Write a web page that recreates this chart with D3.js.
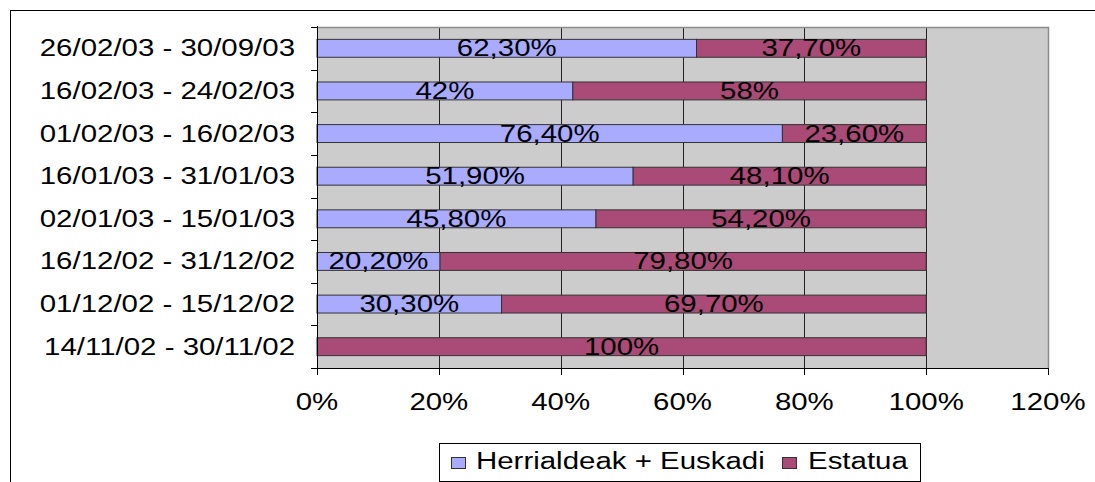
<!DOCTYPE html>
<html>
<head>
<meta charset="utf-8">
<script src="https://cdn.jsdelivr.net/npm/d3@7"></script>
<style>
    body { margin: 0; background: #fff; }
    svg { display: block; }
    text { font-family: "Liberation Sans", Arial, sans-serif; fill: #000; }
</style>
</head>
<body>
<div id="chart"></div>
<script>
// Periods, top to bottom as drawn
const periods = [
    "26/02/03 - 30/09/03",
    "16/02/03 - 24/02/03",
    "01/02/03 - 16/02/03",
    "16/01/03 - 31/01/03",
    "02/01/03 - 15/01/03",
    "16/12/02 - 31/12/02",
    "01/12/02 - 15/12/02",
    "14/11/02 - 30/11/02"
];
const herrialdeak = [62.3, 42, 76.4, 51.9, 45.8, 20.2, 30.3, 0];
const estatua = [37.7, 58, 23.6, 48.1, 54.2, 79.8, 69.7, 100];
const seriesNames = ["Herrialdeak + Euskadi", "Estatua"];
const seriesColors = ["#a9abff", "#a94b76"];
const xTicks = [0, 20, 40, 60, 80, 100, 120];

const width = 1095, height = 482;
const fontSize = 23;
const stretch = 1.28; // the original picture is widened horizontally

const svg = d3.select("#chart").append("svg")
    .attr("width", width)
    .attr("height", height);

// text helper: widened glyphs like the reference
function label(g, x, y, str, anchor) {
    return g.append("text")
        .attr("transform", `translate(${x},${y}) scale(${stretch},1)`)
        .attr("text-anchor", anchor || "middle")
        .style("font-size", fontSize + "px")
        .text(str);
}

function fmt(v) {
    return String(v.toFixed(v % 1 === 0 ? 0 : 2)).replace(".", ",") + "%";
}

// outer chart frame (left and top edges visible)
svg.append("line").attr("x1", 10.5).attr("x2", 10.5).attr("y1", 10).attr("y2", height).attr("stroke", "#000");
svg.append("line").attr("x1", 10).attr("x2", width).attr("y1", 10.5).attr("y2", 10.5).attr("stroke", "#000");

const plot = { left: 317, right: 1048, top: 27, bottom: 368 };

const x = d3.scaleLinear().domain([0, 120]).range([plot.left, plot.right]);
const y = d3.scaleBand().domain(periods).range([plot.top, plot.bottom])
    .paddingInner(0.58).paddingOuter(0.29);

// plot background
svg.append("rect")
    .attr("x", plot.left).attr("y", plot.top)
    .attr("width", plot.right - plot.left).attr("height", plot.bottom - plot.top)
    .attr("fill", "#cccccc");

// gridlines
svg.append("g").selectAll("line")
    .data(xTicks.filter(t => t > 0 && t < 120))
    .enter().append("line")
    .attr("x1", d => Math.round(x(d)) + 0.5).attr("x2", d => Math.round(x(d)) + 0.5)
    .attr("y1", plot.top).attr("y2", plot.bottom)
    .attr("stroke", "#222");

// plot border top/right in gray
svg.append("path")
    .attr("d", `M${plot.left},${plot.top + 0.5}H${plot.right + 0.5}V${plot.bottom}`)
    .attr("fill", "none").attr("stroke", "#8c8c8c").attr("stroke-width", 1.5);

// stacked bars
const rows = periods.map((p, i) => ({ period: p, values: [herrialdeak[i], estatua[i]] }));
const barG = svg.append("g");
rows.forEach(r => {
    let acc = 0;
    r.values.forEach((v, j) => {
        if (v > 0) {
            barG.append("rect")
                .attr("x", x(acc)).attr("y", y(r.period))
                .attr("width", x(acc + v) - x(acc)).attr("height", y.bandwidth())
                .attr("fill", seriesColors[j])
                .attr("stroke", "#333").attr("stroke-width", 1);
            label(barG, (x(acc) + x(acc + v)) / 2, y(r.period) + y.bandwidth() / 2 + 8, fmt(v));
        }
        acc += v;
    });
});

// y axis with ticks at band boundaries
const yAxisG = svg.append("g");
yAxisG.append("line")
    .attr("x1", plot.left + 0.5).attr("x2", plot.left + 0.5)
    .attr("y1", plot.top - 1).attr("y2", plot.bottom + 7)
    .attr("stroke", "#000");
const bounds = periods.map(p => y(p) - y.step() * y.paddingOuter()).concat([plot.bottom]);
yAxisG.selectAll(".ytick").data(bounds).enter().append("line")
    .attr("x1", plot.left - 6).attr("x2", plot.left)
    .attr("y1", d => Math.round(d) + 0.5).attr("y2", d => Math.round(d) + 0.5)
    .attr("stroke", "#000");
periods.forEach(p => label(yAxisG, 295, y(p) + y.bandwidth() / 2 + 8, p, "end"));

// x axis
const xAxisG = svg.append("g");
xAxisG.append("line")
    .attr("x1", plot.left).attr("x2", plot.right + 1)
    .attr("y1", plot.bottom + 0.5).attr("y2", plot.bottom + 0.5)
    .attr("stroke", "#000");
xAxisG.selectAll(".xtick").data(xTicks).enter().append("line")
    .attr("x1", d => Math.round(x(d)) + 0.5).attr("x2", d => Math.round(x(d)) + 0.5)
    .attr("y1", plot.bottom).attr("y2", plot.bottom + 7)
    .attr("stroke", "#000");
xTicks.forEach(t => label(xAxisG, x(t), 410, t + "%"));

// legend
const legend = svg.append("g");
legend.append("rect")
    .attr("x", 439.5).attr("y", 443.5).attr("width", 481).attr("height", 38)
    .attr("fill", "#fff").attr("stroke", "#000");
const legendItems = [
    { swatch: 451, text: 476 },
    { swatch: 782, text: 808 }
];
legendItems.forEach((it, i) => {
    legend.append("rect")
        .attr("x", it.swatch + 0.5).attr("y", 457.5).attr("width", 14).attr("height", 11)
        .attr("fill", seriesColors[i]).attr("stroke", "#333");
    label(legend, it.text, 469, seriesNames[i], "start");
});
</script>
</body>
</html>
